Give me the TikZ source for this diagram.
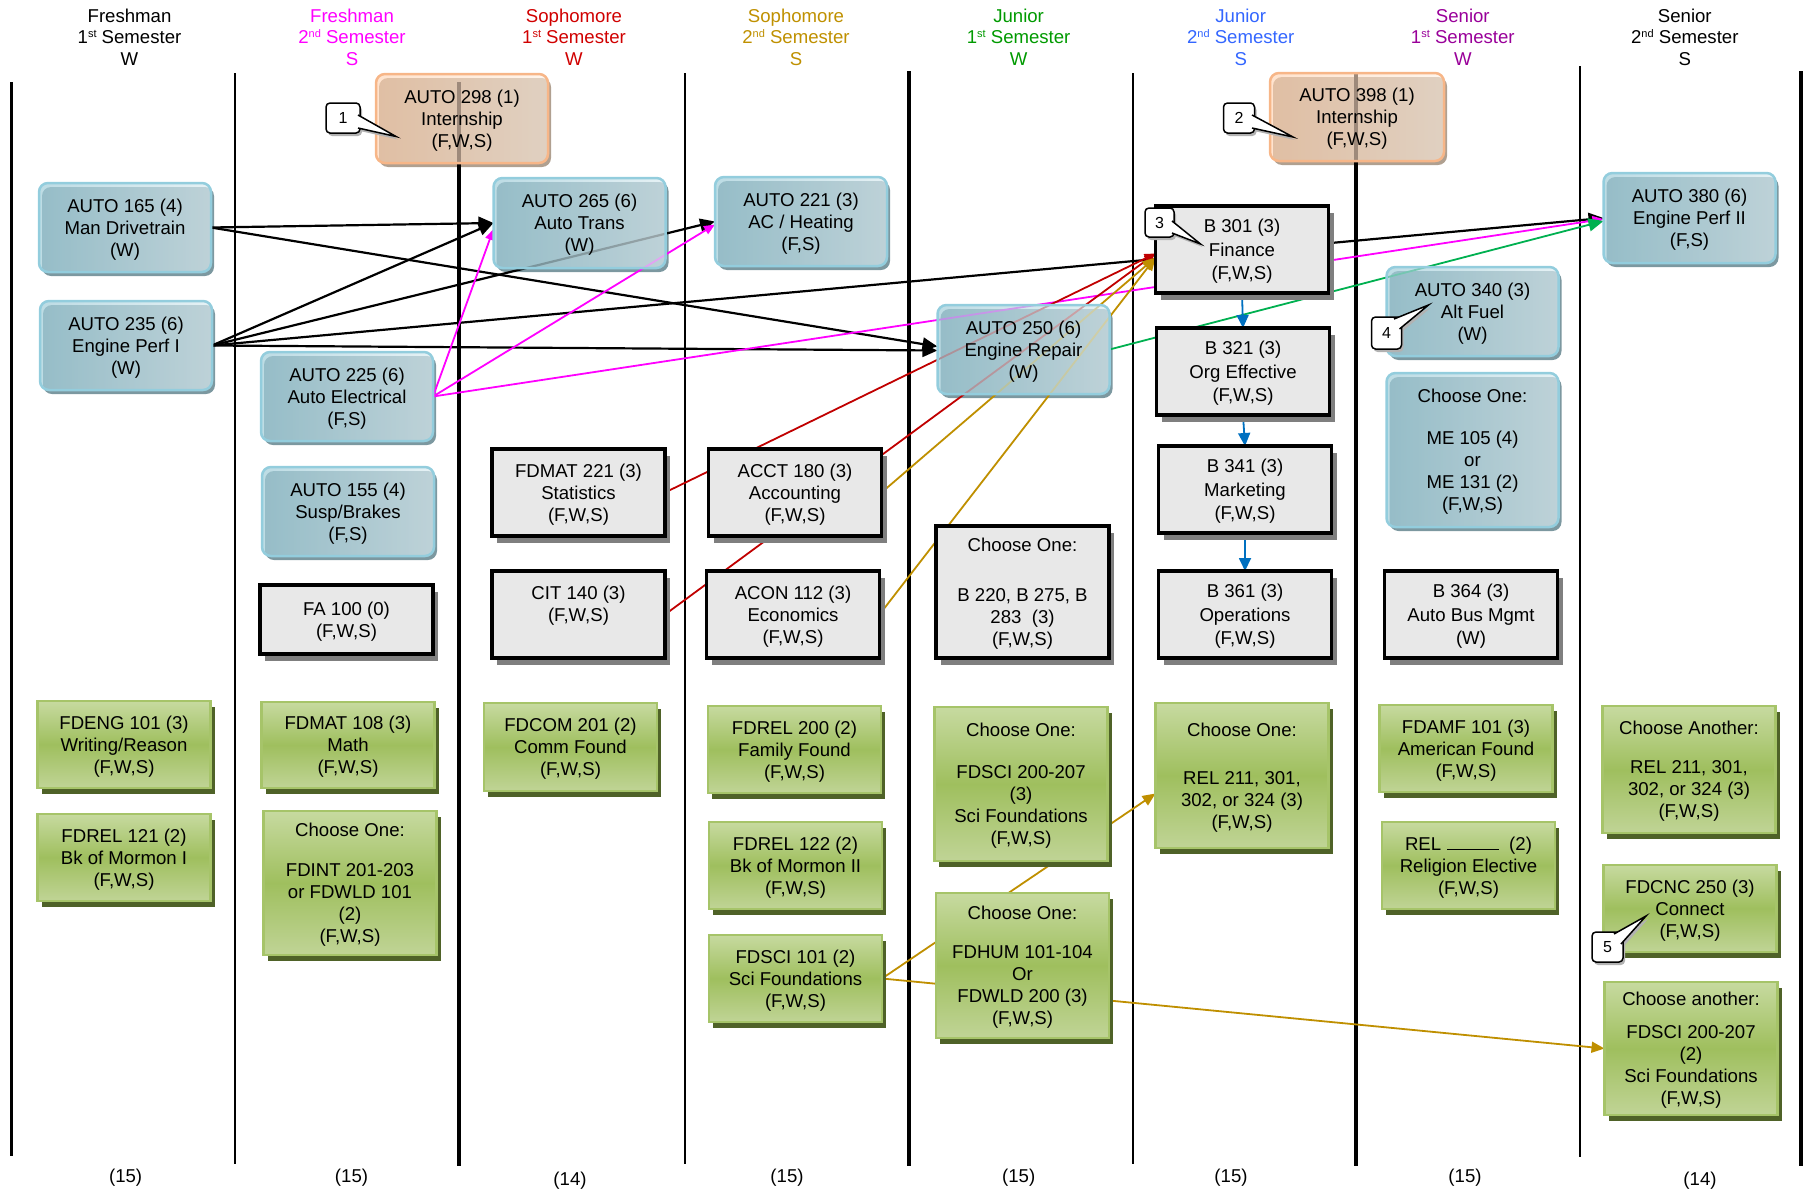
\documentclass[tikz,border=0pt]{standalone}
\usepackage{fontspec}
\setmainfont{Liberation Sans}
\usetikzlibrary{arrows.meta,shadows,calc}
\pgfdeclarelayer{shd}
\pgfdeclarelayer{cols}
\pgfdeclarelayer{conn}
\pgfdeclarelayer{callo}
\pgfsetlayers{shd,cols,conn,main,callo}
\definecolor{bluebd}{HTML}{93CDDD}
\definecolor{blueL}{HTML}{A1CDD9}
\definecolor{blueR}{HTML}{DAEBF0}
\definecolor{blueshd}{HTML}{7C98A0}
\definecolor{orbd}{HTML}{F7B688}
\definecolor{orL}{HTML}{FFD2B0}
\definecolor{orR}{HTML}{FFEFE0}
\definecolor{orshd}{HTML}{B0A090}
\definecolor{grT}{HTML}{C7DAA0}
\definecolor{grM}{HTML}{9FBF5E}
\definecolor{grB}{HTML}{C0D496}
\definecolor{grbd}{HTML}{A6C469}
\definecolor{grshd}{HTML}{4F6228}
\definecolor{gyfill}{HTML}{E8E8E8}
\definecolor{gyshd}{HTML}{7F7F7F}
\definecolor{cmagc}{HTML}{FF00FF}
\definecolor{credc}{HTML}{C00000}
\definecolor{cgldc}{HTML}{BF8F00}
\definecolor{cgrnc}{HTML}{00B050}
\definecolor{cbluc}{HTML}{0070C0}
\definecolor{hred}{HTML}{D00000}
\definecolor{hgld}{HTML}{BF9000}
\definecolor{hgrn}{HTML}{009A00}
\definecolor{hblu}{HTML}{3366FF}
\definecolor{hpur}{HTML}{990099}
\newcommand\bxfont{\fontsize{18.6}{22}\selectfont}
\newcommand\bbfont{\fontsize{18.6}{23.3}\selectfont}
\newcommand\hdfont{\fontsize{18.6}{21.5}\selectfont}
\newcommand\sups[1]{\raisebox{6pt}{\fontsize{11}{11}\selectfont #1}}
\newcommand\callwedgeshadow[3]{\fill[gray!60] ([shift={(2,3)}]#1) -- ([shift={(2,3)}]#3) -- ([shift={(2,3)}]#2) -- cycle;}
\newcommand\callwedge[3]{\fill[white] (#1) -- (#3) -- (#2) -- cycle;
  \draw[line width=1.5pt, line join=miter] (#1) -- (#3) -- (#2);}
\tikzset{
 txt/.style={align=center, inner sep=0pt, outer sep=0pt, font=\bxfont, text=black, text depth=-3pt},
 bluebox/.style={txt, rectangle, rounded corners=9pt, minimum width=172pt, minimum height=89pt, draw=bluebd, line width=2.5pt, left color=blueL, right color=blueR, fill opacity=0.7, draw opacity=1, text opacity=1},
 orbox/.style={txt, rectangle, rounded corners=9pt, minimum width=172pt, minimum height=89pt, draw=orbd, line width=2.5pt, left color=orL, right color=orR, fill opacity=0.62, draw opacity=1, text opacity=1},
 grnbox/.style={txt, rectangle, minimum width=173pt, minimum height=87pt, draw=grbd, line width=2.5pt, top color=grT, bottom color=grB, middle color=grM, drop shadow={shadow xshift=4pt, shadow yshift=-6pt, fill=grshd, opacity=1}},
 gybox/.style={txt, rectangle, minimum width=173pt, minimum height=87pt, draw=black, line width=3.5pt, fill=gyfill, drop shadow={shadow xshift=5pt, shadow yshift=-7pt, fill=gyshd, opacity=1}},
 bser/.style={gybox, font=\bbfont},
 callbox/.style={rectangle, rounded corners=4pt, draw=black, line width=1.5pt, fill=white, inner sep=0pt, minimum width=31pt, minimum height=30pt, font=\fontsize{16}{16}\selectfont, drop shadow={shadow xshift=2pt, shadow yshift=-3pt, fill=gray!60, opacity=1}},
 hdr/.style={align=center, inner sep=0pt, font=\hdfont},
 ftr/.style={inner sep=0pt, font=\bxfont},
 colthick/.style={line width=3.2pt, black},
 colthin/.style={line width=1.6pt, black},
 cbase/.style={line width=1.8pt},
 cblk/.style={cbase, line width=2.2pt, black, -{Triangle[length=15pt,width=13pt]}},
 cmag/.style={cbase, cmagc, -{Triangle[length=11pt,width=9pt]}},
 cred/.style={cbase, credc, -{Triangle[length=11pt,width=9pt]}},
 cgld/.style={cbase, cgldc, -{Triangle[length=13pt,width=11pt]}},
 cgrn/.style={cbase, cgrnc, -{Triangle[length=15pt,width=13pt]}},
 cblu/.style={cbase, cbluc, -{Triangle[length=13pt,width=12pt]}},
}
\begin{document}
\begin{tikzpicture}[x=1pt,y=-1pt]
\useasboundingbox (0,0) rectangle (1807,1191);

% headers
\node[hdr, text=black] (h1) at (129.5,37) {Freshman\\1\sups{st} Semester\\W};
\node[hdr, text=cmagc] (h2) at (352,37) {Freshman\\2\sups{nd} Semester\\S};
\node[hdr, text=hred] (h3) at (574,37) {Sophomore\\1\sups{st} Semester\\W};
\node[hdr, text=hgld] (h4) at (796,37) {Sophomore\\2\sups{nd} Semester\\S};
\node[hdr, text=hgrn] (h5) at (1018.6,37) {Junior\\1\sups{st} Semester\\W};
\node[hdr, text=hblu] (h6) at (1240.7,37) {Junior\\2\sups{nd} Semester\\S};
\node[hdr, text=hpur] (h7) at (1462.8,37) {Senior\\1\sups{st} Semester\\W};
\node[hdr, text=black] (h8) at (1684.8,37) {Senior\\2\sups{nd} Semester\\S};

% footers
\node[ftr] (t1) at (125.6,1178) {(15)};
\node[ftr] (t2) at (351.5,1178) {(15)};
\node[ftr] (t3) at (570,1181) {(14)};
\node[ftr] (t4) at (787,1178) {(15)};
\node[ftr] (t5) at (1018.7,1178) {(15)};
\node[ftr] (t6) at (1231,1178) {(15)};
\node[ftr] (t7) at (1465,1178) {(15)};
\node[ftr] (t8) at (1700,1181) {(14)};

% column lines
\begin{pgfonlayer}{cols}
\draw[colthick] (11.5,82) -- (11.5,1156);
\draw[colthin] (235,73) -- (235,1164);
\draw[colthick] (459,82) -- (459,1166);
\draw[colthin] (685,73) -- (685,1164);
\draw[colthick] (909,71) -- (909,1166);
\draw[colthin] (1133,73) -- (1133,1164);
\draw[colthick] (1356,72) -- (1356,1166);
\draw[colthin] (1580,66) -- (1580,1157);
\draw[colthick] (1801,71) -- (1801,1166);
\end{pgfonlayer}

% blue boxes
\node[bluebox] (auto165) at (125,227.5) {AUTO 165 (4)\\Man Drivetrain\\(W)};
\node[bluebox] (auto235) at (126,345.5) {AUTO 235 (6)\\Engine Perf I\\(W)};
\node[bluebox] (auto225) at (347,396.5) {AUTO 225 (6)\\Auto Electrical\\(F,S)};
\node[bluebox] (auto155) at (348,511.5) {AUTO 155 (4)\\Susp/Brakes\\(F,S)};
\node[bluebox, minimum height=90pt] (auto265) at (579.5,223) {AUTO 265 (6)\\Auto Trans\\(W)};
\node[bluebox] (auto221) at (801,221.5) {AUTO 221 (3)\\AC / Heating\\(F,S)};
\node[bluebox] (auto250) at (1023.5,349.5) {AUTO 250 (6)\\Engine Repair\\(W)};
\node[bluebox] (auto340) at (1472.5,311.5) {AUTO 340 (3)\\Alt Fuel\\(W)};
\node[bluebox, minimum height=154pt] (chme) at (1472.5,450) {Choose One:\\[20pt]ME 105 (4)\\or\\ME 131 (2)\\(F,W,S)};
\node[bluebox, minimum height=90pt] (auto380) at (1689.5,218) {AUTO 380 (6)\\Engine Perf II\\(F,S)};

% orange boxes
\node[orbox] (auto298) at (462,118.5) {AUTO 298 (1)\\Internship\\(F,W,S)};
\node[orbox, minimum width=174pt, minimum height=88pt] (auto398) at (1357,117) {AUTO 398 (1)\\Internship\\(F,W,S)};

% shadows of translucent boxes
\begin{pgfonlayer}{shd}
\foreach \n in {auto165,auto235,auto225,auto155,auto265,auto221,auto250,auto340,chme,auto380}{
  \fill[blueshd, rounded corners=9pt] ([shift={(3,4)}]\n.north west) rectangle ([shift={(3,4)}]\n.south east);
}
\foreach \n in {auto298,auto398}{
  \fill[orshd, rounded corners=9pt] ([shift={(3,4)}]\n.north west) rectangle ([shift={(3,4)}]\n.south east);
}
\end{pgfonlayer}

% gray boxes
\node[bser] (b301) at (1242,249.5) {B 301 (3)\\Finance\\(F,W,S)};
\node[bser] (b321) at (1243,371.5) {B 321 (3)\\Org Effective\\(F,W,S)};
\node[bser] (b341) at (1245,489.5) {B 341 (3)\\Marketing\\(F,W,S)};
\node[bser] (b361) at (1245,614.5) {B 361 (3)\\Operations\\(F,W,S)};
\node[bser] (b364) at (1471,614.5) {B 364 (3)\\Auto Bus Mgmt\\(W)};
\node[gybox, minimum height=132pt] (chb) at (1022.5,592) {Choose One:\\[28pt]B 220, B 275, B\\283\ \ (3)\\(F,W,S)};
\node[gybox] (fdmat221) at (578.5,492.5) {FDMAT 221 (3)\\Statistics\\(F,W,S)};
\node[gybox] (cit140) at (578.5,614.5) {CIT 140 (3)\\(F,W,S)\\\mbox{}};
\node[gybox] (acct180) at (795,492.5) {ACCT 180 (3)\\Accounting\\(F,W,S)};
\node[gybox] (acon112) at (793,614.5) {ACON 112 (3)\\Economics\\(F,W,S)};
\node[gybox, minimum height=69pt] (fa100) at (346.5,619.5) {FA 100 (0)\\(F,W,S)};

% green boxes
\node[grnbox] (fdeng101) at (124,744.5) {FDENG 101 (3)\\Writing/Reason\\(F,W,S)};
\node[grnbox] (fdrel121) at (124,857.5) {FDREL 121 (2)\\Bk of Mormon I\\(F,W,S)};
\node[grnbox, minimum height=86pt] (fdmat108) at (348,745) {FDMAT 108 (3)\\Math\\(F,W,S)};
\node[grnbox, minimum height=144pt] (chfdint) at (350,883) {Choose One:\\[18pt]FDINT 201-203\\or FDWLD 101\\(2)\\(F,W,S)};
\node[grnbox, minimum height=88pt] (fdcom201) at (570.5,747) {FDCOM 201 (2)\\Comm Found\\(F,W,S)};
\node[grnbox] (fdrel200) at (794.5,749.5) {FDREL 200 (2)\\Family Found\\(F,W,S)};
\node[grnbox] (fdrel122) at (795.5,865.5) {FDREL 122 (2)\\Bk of Mormon II\\(F,W,S)};
\node[grnbox] (fdsci101) at (795.5,978.5) {FDSCI 101 (2)\\Sci Foundations\\(F,W,S)};
\node[grnbox, minimum height=154pt] (chsci) at (1021,784) {Choose One:\\[20pt]FDSCI 200-207\\(3)\\Sci Foundations\\(F,W,S)};
\node[grnbox, minimum height=145pt] (chhum) at (1022.5,965.5) {Choose One:\\[17pt]FDHUM 101-104\\Or\\FDWLD 200 (3)\\(F,W,S)};
\node[grnbox, minimum height=145pt] (chrel) at (1242,775.5) {Choose One:\\[26pt]REL 211, 301,\\302, or 324 (3)\\(F,W,S)};
\node[grnbox] (fdamf101) at (1466,748.5) {FDAMF 101 (3)\\American Found\\(F,W,S)};
\node[grnbox] (rel2) at (1468.5,865.5) {REL\hspace{6pt}\rule{52pt}{1.2pt}\hspace{10pt}(2)\\Religion Elective\\(F,W,S)};
\node[grnbox, minimum height=127pt] (chanother) at (1689,769.5) {Choose Another:\\[17pt]REL 211, 301,\\302, or 324 (3)\\(F,W,S)};
\node[grnbox] (fdcnc250) at (1690,908.5) {FDCNC 250 (3)\\Connect\\(F,W,S)};
\node[grnbox, minimum height=133pt] (chanfdsci) at (1691,1048.5) {Choose another:\\[11pt]FDSCI 200-207\\(2)\\Sci Foundations\\(F,W,S)};

% connectors
\begin{pgfonlayer}{conn}
\draw[cblk] (auto165.east) -- (auto265.west);
\draw[cblk] (auto165.east) -- ($(auto250.west)+(0,-3)$);
\draw[cblk] (auto235.east) -- (auto265.west);
\draw[cblk] (auto235.east) -- (auto221.west);
\draw[cblk] (auto235.east) -- (auto380.west);
\draw[cblk] (auto235.east) -- ($(auto250.west)+(0,1)$);
\draw[cmag] (auto225.east) -- ($(auto265.west)+(0,6)$);
\draw[cmag] (auto225.east) -- ($(auto221.west)+(0,3)$);
\draw[cmag] (auto225.east) -- ($(auto380.west)+(0,1)$);
\draw[cgrn] (auto250.east) -- ($(auto380.west)+(0,3)$);
\draw[cred] (fdmat221.east) -- ($(b301.west)+(0,4)$);
\draw[cred] (cit140.east) -- ($(b301.west)+(0,4)$);
\draw[cgld] (acct180.east) -- ($(b301.west)+(0,8)$);
\draw[cgld] (acon112.east) -- ($(b301.west)+(0,8)$);
\draw[cgld] (fdsci101.east) -- ($(chrel.west)+(0,18)$);
\draw[cgld] (fdsci101.east) -- (chanfdsci.west);
\draw[cblu] (b301.south) -- (b321.north);
\draw[cblu] (b321.south) -- (b341.north);
\draw[cblu] (b341.south) -- (b361.north);
\end{pgfonlayer}

% callouts
\coordinate (c1a) at (358,115); \coordinate (c1b) at (358,128); \coordinate (c1t) at (396,136.5);
\coordinate (c2a) at (1252,115); \coordinate (c2b) at (1252,128); \coordinate (c2t) at (1293,137);
\coordinate (c3a) at (1172,221); \coordinate (c3b) at (1172,233); \coordinate (c3t) at (1200.5,244);
\coordinate (c4a) at (1394,319); \coordinate (c4b) at (1399.5,329); \coordinate (c4t) at (1428.5,305);
\coordinate (c5a) at (1614,934); \coordinate (c5b) at (1621,944); \coordinate (c5t) at (1646,916);
\begin{pgfonlayer}{callo}
\callwedgeshadow{c1a}{c1b}{c1t}
\callwedgeshadow{c2a}{c2b}{c2t}
\callwedgeshadow{c3a}{c3b}{c3t}
\callwedgeshadow{c4a}{c4b}{c4t}
\callwedgeshadow{c5a}{c5b}{c5t}
\node[callbox, minimum width=34pt] (c1) at (343,118) {1};
\node[callbox] (c2) at (1239,118) {2};
\node[callbox, minimum width=29pt, minimum height=29pt] (c3) at (1159.5,222.5) {3};
\node[callbox, minimum width=30pt, minimum height=32pt] (c4) at (1386.5,333) {4};
\node[callbox] (c5) at (1607.5,947) {5};
\callwedge{c1a}{c1b}{c1t}
\callwedge{c2a}{c2b}{c2t}
\callwedge{c3a}{c3b}{c3t}
\callwedge{c4a}{c4b}{c4t}
\callwedge{c5a}{c5b}{c5t}
\end{pgfonlayer}
\end{tikzpicture}
\end{document}
